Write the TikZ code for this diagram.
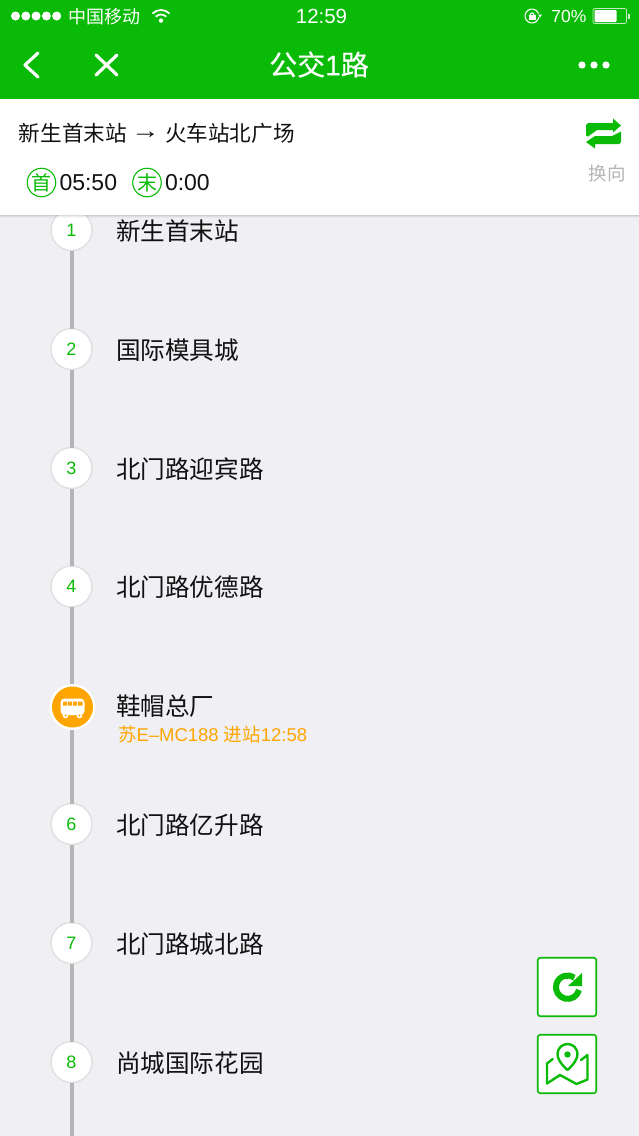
\documentclass[tikz,border=0pt]{standalone}
\usepackage{fontspec}
\setmainfont{Liberation Sans}
\newfontfamily\cjk{Noto Sans CJK SC}
\newfontfamily\cjkm[FakeBold=0.5]{Noto Sans CJK SC}
\newfontfamily\latm[FakeBold=0.5]{Liberation Sans}
\definecolor{wxgreen}{HTML}{09BB07}
\definecolor{pagebg}{HTML}{EFEFF4}
\definecolor{rail}{HTML}{B5B5B5}
\definecolor{ringc}{HTML}{E0E0E0}
\definecolor{busor}{HTML}{FFA500}
\definecolor{ink}{HTML}{111111}
\newcommand{\fs}[1]{\fontsize{#1}{#1}\selectfont}
\tikzset{
  x=1pt,y=-1pt,
  every node/.style={inner sep=0pt,outer sep=0pt},
  stopc/.style={circle,draw=ringc,line width=1.4pt,fill=white,minimum size=41pt,text=wxgreen,font=\fs{18}},
  stopt/.style={anchor=west,text=ink,font=\cjk\fs{24.6}},
  railline/.style={draw=rail,line width=4.5pt},
  bartext/.style={text=white,font=\fs{17.5}},
  whitestroke/.style={draw=white,line width=3.2pt,line cap=round,line join=round},
  headt/.style={anchor=west,text=ink,font=\cjk\fs{21.6}},
  tagc/.style={circle,draw=wxgreen,line width=1.1pt,minimum size=28.5pt,text=wxgreen,font=\cjk\fs{20}},
  timet/.style={anchor=west,text=ink,font=\fs{23}},
  sqbtn/.style={draw=wxgreen,line width=1.6pt,fill=white,rounded corners=2.5pt,minimum width=58.5pt,minimum height=58.5pt},
  iconline/.style={draw=wxgreen,line width=2.4pt,line join=round,line cap=round}
}
\begin{document}
\begin{tikzpicture}
\useasboundingbox (0,0) rectangle (639,1136);
\fill[pagebg] (0,0) rectangle (639,1136);
% stations
\node[stopc] (s1) at (71.5,230) {1};
\node[stopc] (s2) at (71.5,349) {2};
\node[stopc] (s3) at (71.5,468) {3};
\node[stopc] (s4) at (71.5,586.5) {4};
\node[circle,fill=white,minimum size=46pt] (s5) at (72.5,707) {};
\node[stopc] (s6) at (71.5,824) {6};
\node[stopc] (s7) at (71.5,943) {7};
\node[stopc] (s8) at (71.5,1062) {8};
\coordinate (railend) at (72,1136);
\draw[railline] (s1.south -| 72,0) -- (s2.north -| 72,0);
\draw[railline] (s2.south -| 72,0) -- (s3.north -| 72,0);
\draw[railline] (s3.south -| 72,0) -- (s4.north -| 72,0);
\draw[railline] (s4.south -| 72,0) -- (s5.north -| 72,0);
\draw[railline] (s5.south -| 72,0) -- (s6.north -| 72,0);
\draw[railline] (s6.south -| 72,0) -- (s7.north -| 72,0);
\draw[railline] (s7.south -| 72,0) -- (s8.north -| 72,0);
\draw[railline] (s8.south -| 72,0) -- (railend);
\node[stopt] (t1) at (116,231) {新生首末站};
\node[stopt] (t2) at (116,350) {国际模具城};
\node[stopt] (t3) at (116,469) {北门路迎宾路};
\node[stopt] (t4) at (116,587.5) {北门路优德路};
\node[stopt] (t5) at (116,706.5) {鞋帽总厂};
\node[stopt] (t6) at (116,825) {北门路亿升路};
\node[stopt] (t7) at (116,944) {北门路城北路};
\node[stopt] (t8) at (116,1063) {尚城国际花园};
\node[anchor=west,text=busor,font=\fs{18.5}] (busline) at (118,734.5) {{\cjk 苏}E–MC188 {\cjk 进站}12:58};
% bus icon
\fill[busor] (s5.center) circle (20.5);
\fill[white,rounded corners=4pt] (60.5,698.5) rectangle (84.5,715);
\fill[white] (65.5,715.5) circle (2.8) (79.5,715.5) circle (2.8);
\fill[busor] (65.5,715.5) circle (1.1) (79.5,715.5) circle (1.1);
\fill[busor] (63,701.5) rectangle (67,705.5) (68,701.5) rectangle (72,705.5) (73,701.5) rectangle (77,705.5) (78,701.5) rectangle (82.5,705.5);
% header card
\foreach \i/\o in {0/0.22,1/0.14,2/0.07,3/0.03}{\fill[black,opacity=\o] (0,214+\i) rectangle (639,215+\i);}
\fill[white] (0,99) rectangle (639,214.5);
\node[headt] (route) at (19,133) {新生首末站};
\node[anchor=center,text=ink,font=\fs{23}] (routearrow) at (145.5,135) {\scalebox{1.25}[1]{→}};
\node[headt] (routeto) at (165,133) {火车站北广场};
\node[tagc] (first) at (41.5,182.5) {首};
\node[timet] (ftime) at (59.5,182.5) {05:50};
\node[tagc] (last) at (147,182.5) {末};
\node[timet] (ltime) at (165,182.5) {0:00};
% swap icon
\fill[wxgreen] (586,135.5) -- (586,125) -- (588,123) -- (613,123) -- (613,118.5) -- (621,125.5) -- (613,132.5) -- (613,130) -- (597,130) -- (588,136.5) -- cycle;
\fill[wxgreen] (621,131.5) -- (621,142) -- (619,144) -- (595,144) -- (595,148.5) -- (586,142) -- (595,136) -- (612,136) -- cycle;
\node[text=rail,font=\cjk\fs{18.5}] (swap) at (607,173) {换向};
% top bar
\fill[wxgreen] (0,0) rectangle (639,99);
\foreach \x in {15.5,25.8,36.1,46.4,56.7}{\fill[white] (\x,16) circle (4.5);}
\node[anchor=west,text=white,font=\cjk\fs{18}] (carrier) at (68,16.5) {中国移动};
% wifi
\draw[white,line width=1.8pt] (152.5,13.5) arc[start angle=225,end angle=315,radius=12];
\draw[white,line width=1.8pt] (155.7,16.7) arc[start angle=225,end angle=315,radius=7.5];
\fill[white] (161,20.6) circle (2.2);
\node[text=white,font=\fs{20.5}] (clock) at (321.5,16.5) {12:59};
% lock
\draw[white,line width=1.1pt] (538.9,17.2) arc[start angle=10,end angle=340,radius=7];
\fill[white] (528.7,15) rectangle (535.5,20);
\draw[white,line width=1.1pt] (530.1,15) arc[start angle=180,end angle=360,radius=2];
\fill[white] (538,14.5) -- (542,14.5) -- (540,17.5) -- cycle;
\node[bartext] (pct) at (569,16.5) {70\%};
\draw[white,opacity=.75,line width=.8pt,rounded corners=2pt] (593,8.5) rectangle (626.5,23.5);
\fill[white,rounded corners=1pt] (594.5,10) rectangle (616.5,22);
\fill[white,opacity=.8] (628,13.5) rectangle (630,18.5);
% nav
\draw[whitestroke] (38,53) -- (25,65) -- (38,77);
\draw[whitestroke] (96,55) -- (117,75) (117,55) -- (96,75);
\node[text=white] (title) at (319,64.5) {\fs{28}{\cjkm 公交}{\latm 1}{\cjkm 路}};
\fill[white] (582,65) circle (3.6) (594,65) circle (3.6) (606,65) circle (3.6);
% buttons
\node[sqbtn] (refresh) at (567,987) {};
\node[sqbtn] (mapbtn) at (567,1064) {};
\draw[wxgreen,line width=6pt] (579,990) arc[start angle=14,end angle=305,radius=11.7];
\fill[wxgreen] (568,986) -- (582,973) -- (582,986) -- cycle;
\draw[iconline] (567.5,1070) .. controls (561,1064) and (557.5,1059) .. (557.5,1054) arc[start angle=180,end angle=360,radius=10] .. controls (577.5,1059) and (574,1064) .. (567.5,1070) -- cycle;
\fill[wxgreen] (567.5,1054.5) circle (3.2);
\draw[iconline] (552.7,1059) -- (547,1063.5) -- (547,1083.5) -- (560,1075) -- (576.5,1084) -- (587.5,1079.5) -- (587.5,1055) -- (581,1060);
\end{tikzpicture}
\end{document}
